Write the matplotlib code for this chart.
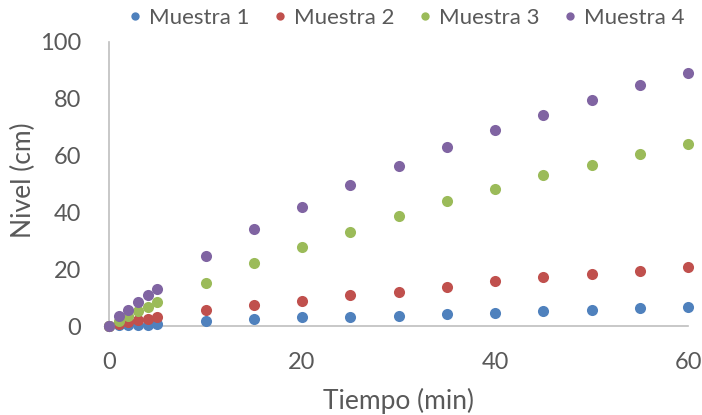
import matplotlib.pyplot as plt

plt.rcParams['font.family'] = ['Lato', 'DejaVu Sans']

tiempo = [0, 1, 2, 3, 4, 5, 10, 15, 20, 25, 30, 35, 40, 45, 50, 55, 60]
muestra1 = [0, 0.2, 0.3, 0.4, 0.5, 0.7, 1.9, 2.4, 3.0, 3.0, 3.6, 4.1, 4.6, 5.1, 5.6, 6.2, 6.8]
muestra2 = [0, 0.7, 1.4, 2.0, 2.5, 3.0, 5.6, 7.3, 8.9, 10.9, 11.9, 13.6, 15.7, 17.3, 18.2, 19.3, 20.9]
muestra3 = [0, 1.9, 3.5, 5.1, 6.8, 8.4, 15.1, 22.0, 27.7, 33.0, 38.8, 44.1, 48.3, 53.1, 56.7, 60.4, 64.1]
muestra4 = [0, 3.5, 5.6, 8.4, 10.9, 13.0, 24.6, 34.0, 42.0, 49.4, 56.2, 63.0, 68.9, 74.2, 79.4, 84.7, 88.9]

nombres = ['Muestra 1', 'Muestra 2', 'Muestra 3', 'Muestra 4']
colores = ['#4F81BD', '#C0504D', '#9BBB59', '#8064A2']
texto = '#595959'

fig = plt.figure(figsize=(7.02, 4.15), dpi=100)
ax = fig.add_axes([109 / 702, 1 - 326 / 415, 579 / 702, 284.5 / 415])

for serie, nombre, color in zip([muestra1, muestra2, muestra3, muestra4], nombres, colores):
    ax.plot(tiempo, serie, linestyle='none', marker='o', markersize=8,
            markeredgewidth=0, color=color, label=nombre, clip_on=False, zorder=3)

ax.set_xlim(0, 60)
ax.set_ylim(0, 100)
ax.set_xticks(range(0, 61, 20))
ax.set_yticks(range(0, 101, 20))

for lado in ['top', 'right']:
    ax.spines[lado].set_visible(False)
for lado in ['left', 'bottom']:
    ax.spines[lado].set_color('#BFBFBF')
    ax.spines[lado].set_linewidth(1.2)

ax.tick_params(length=0, labelsize=17, labelcolor=texto)
ax.tick_params(axis='y', pad=20)
ax.tick_params(axis='x', pad=19)

ax.set_xlabel('Tiempo (min)', fontsize=19, color=texto, va='center', ha='center')
ax.set_ylabel('Nivel (cm)', fontsize=19, color=texto, va='center', ha='center')
ax.xaxis.set_label_coords(0.5, -0.262)
ax.yaxis.set_label_coords(-0.147, 0.513)

fig.legend(loc='center', bbox_to_anchor=(0.579, 1 - 18 / 415), ncol=4, frameon=False,
           fontsize=16, labelcolor=texto, handlelength=0.6, handletextpad=0.3,
           columnspacing=1.1, markerscale=0.75, borderaxespad=0)

fig.savefig('out.png', dpi=100)
